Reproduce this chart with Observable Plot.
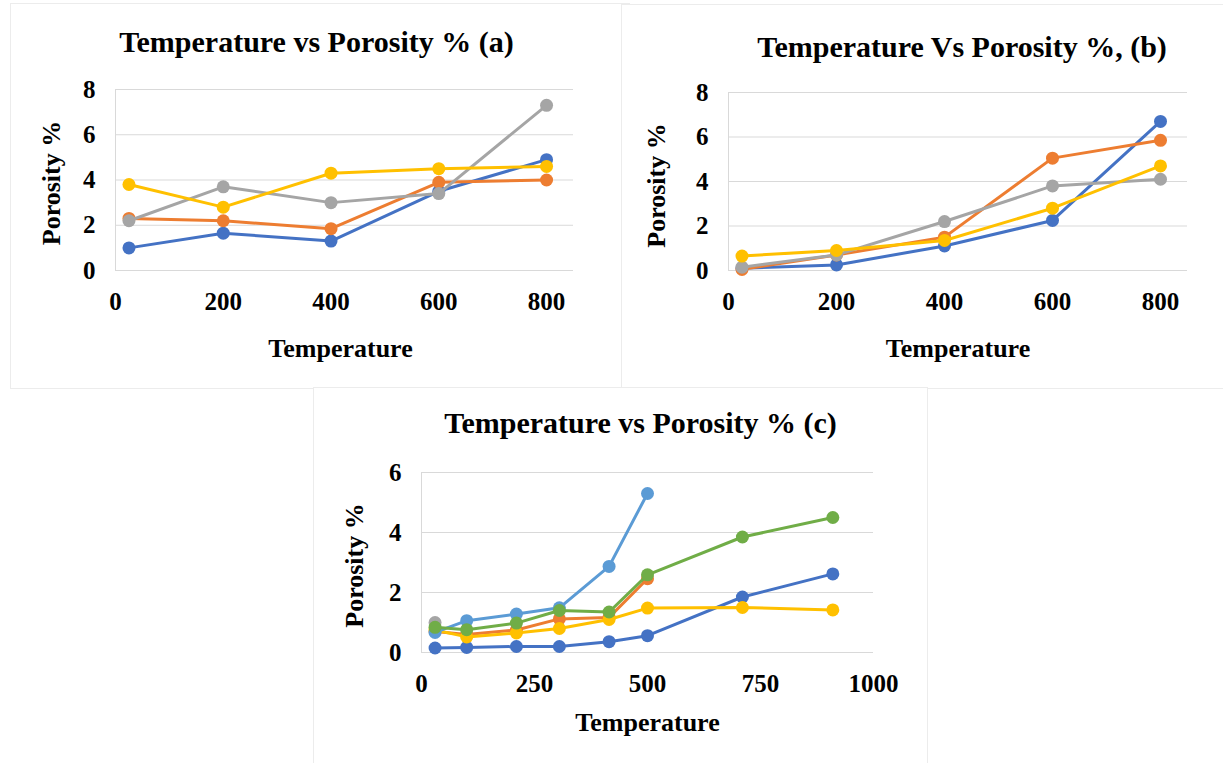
<!DOCTYPE html>
<html><head><meta charset="utf-8">
<script src="https://cdn.jsdelivr.net/npm/d3@7"></script>
<script src="https://cdn.jsdelivr.net/npm/@observablehq/plot@0.6"></script>
<style>
body{margin:0;background:#fff;}
#root{position:relative;width:1223px;height:763px;overflow:hidden;background:#fff;}
.box{position:absolute;box-sizing:border-box;border:1px solid #ececec;background:#fff;}
.panel{position:absolute;}
</style></head><body><div id="root"></div>
<script>
// ---------- data ----------
const tempsAB = [25, 200, 400, 600, 800];
const a_series1 = [1.0, 1.65, 1.3, 3.5, 4.9];
const a_series2 = [2.3, 2.2, 1.85, 3.9, 4.0];
const a_series3 = [2.2, 3.7, 3.0, 3.4, 7.3];
const a_series4 = [3.8, 2.8, 4.3, 4.5, 4.6];

const b_series1 = [0.1, 0.25, 1.1, 2.25, 6.7];
const b_series2 = [0.05, 0.7, 1.5, 5.05, 5.85];
const b_series3 = [0.15, 0.7, 2.2, 3.8, 4.1];
const b_series4 = [0.65, 0.9, 1.35, 2.8, 4.7];

const tempsC = [30, 100, 210, 305, 415, 500, 710, 910];
const c_series1 = [0.15, 0.17, 0.2, 0.2, 0.36, 0.56, 1.85, 2.62];
const c_series2 = [0.7, 0.6, 0.75, 1.12, 1.17, 2.46];
const c_series3 = [1.0];
const c_series4 = [0.75, 0.52, 0.65, 0.8, 1.1, 1.48, 1.5, 1.42];
const c_series5 = [0.67, 1.06, 1.28, 1.49, 2.87, 5.3];
const c_series6 = [0.84, 0.76, 0.98, 1.4, 1.35, 2.59, 3.85, 4.5];

const xTicksAB = [0, 200, 400, 600, 800];
const yTicksAB = [0, 2, 4, 6, 8];
const xTicksC = [0, 250, 500, 750, 1000];
const yTicksC = [0, 2, 4, 6];

const colorsAB = ["#4472C4", "#ED7D31", "#A5A5A5", "#FFC000"];
const colorsC = ["#4472C4", "#ED7D31", "#A5A5A5", "#FFC000", "#5B9BD5", "#70AD47"];

const titleA = "Temperature vs Porosity % (a)";
const titleB = "Temperature Vs Porosity %, (b)";
const titleC = "Temperature vs Porosity % (c)";
const xTitle = "Temperature";
const yTitle = "Porosity %";

// ---------- drawing ----------
const root = document.getElementById("root");

function addBox(l, t, w, h, sides) {
  const d = document.createElement("div");
  d.className = "box";
  Object.assign(d.style, {left: l + "px", top: t + "px", width: w + "px", height: h + "px"});
  for (const s of ["Left", "Right", "Top", "Bottom"]) if (!sides.includes(s)) d.style["border" + s] = "none";
  root.appendChild(d);
}

function panel(cfg) {
  const fmt = d => String(d);
  const marks = [
    Plot.gridY(cfg.yTicks, {stroke: "#d9d9d9", strokeOpacity: 1, strokeWidth: 1}),
    Plot.ruleX([cfg.xDomain[0]], {stroke: "#d9d9d9", strokeWidth: 1}),
    Plot.axisY(cfg.yTicks, {tickSize: 0, tickPadding: 20, fontSize: 25, fontWeight: "bold", label: null, tickFormat: fmt}),
    Plot.axisX(cfg.xTicks, {tickSize: 0, tickPadding: 22, fontSize: 25, fontWeight: "bold", label: null, tickFormat: fmt})
  ];
  cfg.series.forEach((vals, i) => {
    const rows = vals.map((v, j) => ({x: cfg.temps[j], y: v}));
    marks.push(Plot.line(rows, {x: "x", y: "y", stroke: cfg.colors[i], strokeWidth: 3}));
    marks.push(Plot.dot(rows, {x: "x", y: "y", r: 6.5, fill: cfg.colors[i], stroke: "none"}));
  });
  marks.push(Plot.text([cfg.title], {frameAnchor: "top", lineAnchor: "middle", textAnchor: "middle", dx: cfg.tdx, dy: cfg.tdy, fontSize: 30, fontWeight: "bold", fill: "#000"}));
  marks.push(Plot.text([xTitle], {frameAnchor: "bottom", lineAnchor: "middle", textAnchor: "middle", dx: cfg.xdx, dy: cfg.xdy, fontSize: 26, fontWeight: "bold", fill: "#000"}));
  marks.push(Plot.text([yTitle], {frameAnchor: "left", lineAnchor: "middle", textAnchor: "middle", rotate: -90, dx: cfg.ydx, dy: cfg.ydy, fontSize: 26, fontWeight: "bold", fill: "#000"}));

  const svg = Plot.plot({
    width: cfg.width, height: cfg.height,
    marginLeft: cfg.ml, marginRight: cfg.mr, marginTop: cfg.mt, marginBottom: cfg.mb,
    x: {domain: cfg.xDomain, axis: null},
    y: {domain: cfg.yDomain, axis: null},
    style: {fontFamily: '"Liberation Serif", "Times New Roman", serif', fontWeight: "bold", color: "#000", background: "transparent", overflow: "visible"},
    marks
  });
  const wrap = document.createElement("div");
  wrap.className = "panel";
  wrap.style.left = cfg.left + "px";
  wrap.style.top = cfg.top + "px";
  wrap.appendChild(svg);
  root.appendChild(wrap);
}

addBox(10, 3, 620, 386, ["Left", "Top", "Bottom"]);
addBox(621, 4, 610, 385, ["Left", "Top", "Bottom"]);

panel({
  left: 0, top: 0, width: 610, height: 388, ml: 115, mr: 37, mt: 89, mb: 118,
  xDomain: [0, 850], yDomain: [0, 8], xTicks: xTicksAB, yTicks: yTicksAB,
  temps: tempsAB, series: [a_series1, a_series2, a_series3, a_series4], colors: colorsAB,
  title: titleA, tdx: -28, tdy: -47, xdx: -4, xdy: 78, ydx: -64, ydy: 3
});
panel({
  left: 610, top: 0, width: 613, height: 388, ml: 118, mr: 36, mt: 92, mb: 118,
  xDomain: [0, 850], yDomain: [0, 8], xTicks: xTicksAB, yTicks: yTicksAB,
  temps: tempsAB, series: [b_series1, b_series2, b_series3, b_series4], colors: colorsAB,
  title: titleB, tdx: 4, tdy: -45, xdx: 0, xdy: 78, ydx: -72, ydy: 4
});

addBox(313, 387, 615, 380, ["Left", "Right", "Top"]);
panel({
  left: 313, top: 388, width: 614, height: 375, ml: 108, mr: 54, mt: 84, mb: 111,
  xDomain: [0, 1000], yDomain: [0, 6], xTicks: xTicksC, yTicks: yTicksC,
  temps: tempsC, series: [c_series1, c_series2, c_series3, c_series4, c_series5, c_series6], colors: colorsC,
  title: titleC, tdx: -7, tdy: -49, xdx: 0, xdy: 70, ydx: -67, ydy: 3
});
</script></body></html>
